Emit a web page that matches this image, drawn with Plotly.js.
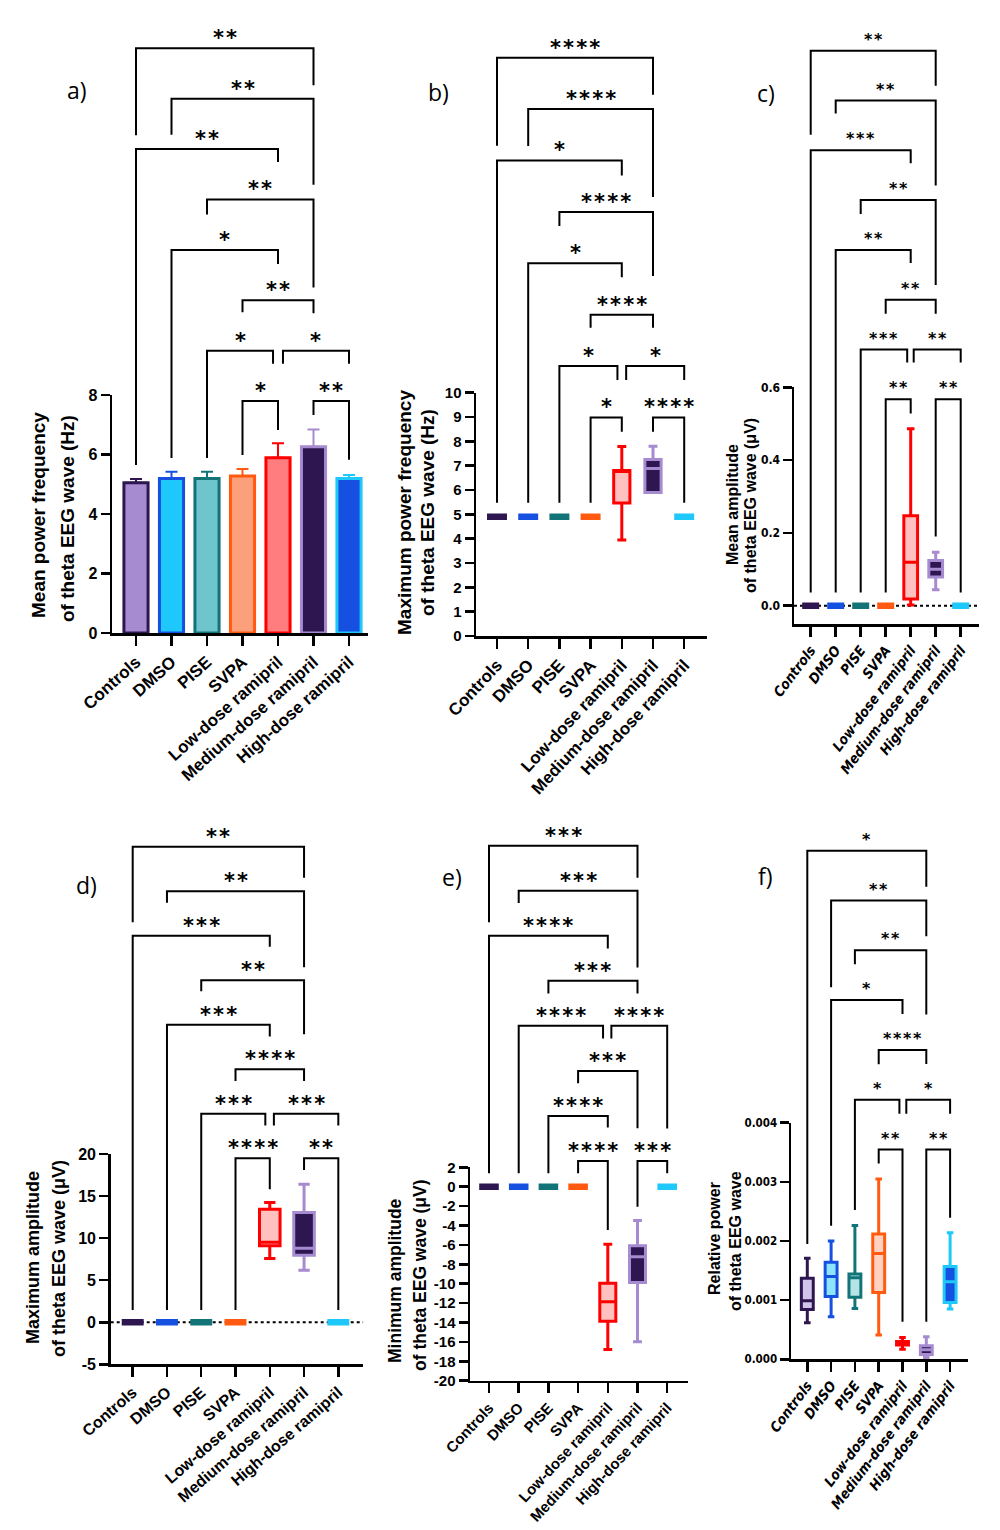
<!DOCTYPE html>
<html><head><meta charset="utf-8">
<script src="https://cdn.plot.ly/plotly-3.0.1.min.js"></script>
<style>html,body{margin:0;padding:0;background:#fff}</style>
</head><body><div id="chart" style="width:1000px;height:1530px"></div>
<script>
// ---------------- DATA ----------------
const categories = ['Controls','DMSO','PISE','SVPA','Low-dose ramipril','Medium-dose ramipril','High-dose ramipril'];

// a) Mean power frequency (Hz): mean + upper error
const meanFreq    = [5.05, 5.19, 5.19, 5.28, 5.89, 6.26, 5.19];
const meanFreqErr = [0.13, 0.23, 0.23, 0.23, 0.49, 0.58, 0.12];

// b) Maximum power frequency (Hz): box statistics
const maxFreqQ1  = [4.9, 4.9, 4.9, 4.9, 5.47, 5.90, 4.9];
const maxFreqMed = [4.9, 4.9, 4.9, 4.9, 6.80, 6.88, 4.9];
const maxFreqQ3  = [4.9, 4.9, 4.9, 4.9, 6.80, 7.25, 4.9];
const maxFreqLo  = [4.9, 4.9, 4.9, 4.9, 3.95, 5.90, 4.9];
const maxFreqHi  = [4.9, 4.9, 4.9, 4.9, 7.79, 7.80, 4.9];

// c) Mean amplitude (µV)
const meanAmpQ1  = [0, 0, 0, 0, 0.018, 0.079, 0];
const meanAmpMed = [0, 0, 0, 0, 0.119, 0.100, 0];
const meanAmpQ3  = [0, 0, 0, 0, 0.247, 0.124, 0];
const meanAmpLo  = [0, 0, 0, 0, 0.002, 0.044, 0];
const meanAmpHi  = [0, 0, 0, 0, 0.486, 0.147, 0];

// d) Maximum amplitude (µV)
const maxAmpQ1  = [0, 0, 0, 0, 9.09, 7.97, 0];
const maxAmpMed = [0, 0, 0, 0, 9.50, 8.79, 0];
const maxAmpQ3  = [0, 0, 0, 0, 13.43, 13.04, 0];
const maxAmpLo  = [0, 0, 0, 0, 7.58, 6.19, 0];
const maxAmpHi  = [0, 0, 0, 0, 14.23, 16.40, 0];

// e) Minimum amplitude (µV)
const minAmpQ1  = [0, 0, 0, 0, -13.87, -9.88, 0];
const minAmpMed = [0, 0, 0, 0, -11.86, -7.22, 0];
const minAmpQ3  = [0, 0, 0, 0, -9.95, -6.09, 0];
const minAmpLo  = [0, 0, 0, 0, -16.78, -15.99, 0];
const minAmpHi  = [0, 0, 0, 0, -5.93, -3.48, 0];

// f) Relative power
const relPowQ1  = [0.00084, 0.00106, 0.00105, 0.00113, 0.00024, 0.00008, 0.00096];
const relPowMed = [0.00099, 0.00140, 0.00138, 0.00179, 0.00027, 0.00016, 0.00131];
const relPowQ3  = [0.00137, 0.00164, 0.00144, 0.00212, 0.00030, 0.00023, 0.00157];
const relPowLo  = [0.00062, 0.00072, 0.00086, 0.00041, 0.00017, 0.00003, 0.00085];
const relPowHi  = [0.00171, 0.00200, 0.00226, 0.00305, 0.00037, 0.00038, 0.00214];

// y tick values
const ticksA = [0, 2, 4, 6, 8];
const ticksB = [0, 1, 2, 3, 4, 5, 6, 7, 8, 9, 10];
const ticksC = [0, 0.2, 0.4, 0.6];
const ticksD = [-5, 0, 5, 10, 15, 20];
const ticksE = [-20, -18, -16, -14, -12, -10, -8, -6, -4, -2, 0, 2];
const ticksF = [0, 0.001, 0.002, 0.003, 0.004];

// significance comparisons [group i, group j, label]
const sigA = [[0,5,'**'],[1,5,'**'],[0,4,'**'],[2,5,'**'],[1,4,'*'],[3,5,'**'],[2,4,'*'],[4,6,'*'],[3,4,'*'],[5,6,'**']];
const sigB = [[0,5,'****'],[1,5,'****'],[0,4,'*'],[2,5,'****'],[1,4,'*'],[3,5,'****'],[2,4,'*'],[4,6,'*'],[3,4,'*'],[5,6,'****']];
const sigC = [[0,5,'**'],[1,5,'**'],[0,4,'***'],[2,5,'**'],[1,4,'**'],[3,5,'**'],[2,4,'***'],[4,6,'**'],[3,4,'**'],[5,6,'**']];
const sigD = [[0,5,'**'],[1,5,'**'],[0,4,'***'],[2,5,'**'],[1,4,'***'],[3,5,'****'],[2,4,'***'],[4,6,'***'],[3,4,'****'],[5,6,'**']];
const sigE = [[0,5,'***'],[1,5,'***'],[0,4,'****'],[2,5,'***'],[1,4,'****'],[4,6,'****'],[3,5,'***'],[2,4,'****'],[3,4,'****'],[5,6,'***']];
const sigF = [[0,5,'*'],[1,5,'**'],[2,5,'**'],[1,4,'*'],[3,5,'****'],[2,4,'*'],[4,6,'*'],[3,4,'**'],[5,6,'**']];

// ---------------- STYLE / LAYOUT ----------------
const W = 1000, H = 1530;
const FONT = 'Liberation Sans, Arial, sans-serif';
const NARROW = 'Liberation Sans Narrow, DejaVu Sans Condensed, Liberation Sans, sans-serif';
const STARF = 'DejaVu Sans, sans-serif';
const LETTERF = 'Open Sans, Noto Sans, sans-serif';

const lineCol = ['#2e1650','#1550e0','#137478','#ff5a10','#ff0000','#a68bd0','#1ec8fa'];
const barFill = ['#a68bd0','#1ec8fa','#6ec5cb','#fba07a','#ff7d7f','#2e1650','#1550e0'];
const boxFill = ['#d2c5ea','#8ee4fb','#b5e3e6','#ffd2c2','#ffc0c0','#2e1650','#1550e0'];

// bracket drawing geometry (level index, leg lengths in px or {v: data value}, small end offsets)
const brA = [{lv:0,L:87,R:37},{lv:1,L:36,R:86},{lv:2,L:{v:5.65},R:13},{lv:3,L:15,R:88},{lv:4,L:{v:5.88},R:14},{lv:5,L:12,R:13},{lv:6,L:{v:5.88},R:13,db:-0.14},{lv:6,L:13,R:13,da:0.14},{lv:7,L:{v:5.98},R:{v:6.82}},{lv:7,L:{v:7.33},R:{v:5.82}}];
const brB = [{lv:0,L:88,R:37},{lv:1,L:37,R:88},{lv:2,L:{v:5.48},R:15},{lv:3,L:14,R:64},{lv:4,L:{v:5.48},R:14},{lv:5,L:13,R:13},{lv:6,L:{v:5.48},R:14,db:-0.14},{lv:6,L:14,R:14,da:0.14},{lv:7,L:{v:5.48},R:{v:8.4}},{lv:7,L:{v:8.4},R:{v:5.48}}];
const brC = [{lv:0,L:84,R:35},{lv:1,L:13,R:85},{lv:2,L:{v:0.036},R:13},{lv:3,L:14,R:85},{lv:4,L:{v:0.036},R:13},{lv:5,L:14,R:14},{lv:6,L:{v:0.036},R:13,db:-0.14},{lv:6,L:13,R:13,da:0.12},{lv:7,L:{v:0.036},R:{v:0.528}},{lv:7,L:{v:0.19},R:{v:0.036}}];
const brD = [{lv:0,L:75.6,R:31},{lv:1,L:11.6,R:76},{lv:2,L:{v:1.46},R:11},{lv:3,L:11,R:54},{lv:4,L:{v:1.46},R:11.7},{lv:5,L:11.7,R:11.7},{lv:6,L:{v:1.46},R:11.7,db:-0.13},{lv:6,L:11.7,R:11.7,da:0.12},{lv:7,L:{v:1.46},R:{v:15.8}},{lv:7,L:{v:18.1},R:{v:1.46}}];
const brE = [{lv:0,L:76.6,R:32},{lv:1,L:12.3,R:76.7},{lv:2,L:{v:1.38},R:12.6},{lv:3,L:12.6,R:12.6},{lv:4,L:{v:1.38},R:12.6,db:-0.16},{lv:4,L:12.6,R:102.7,da:0.12},{lv:5,L:12.3,R:57.3},{lv:6,L:{v:1.38},R:11.6},{lv:7,L:12.3,R:{v:-4.46}},{lv:7,L:{v:-2.06},R:{v:1.38}}];
const brF = [{lv:0,L:{v:0.00195},R:36},{lv:1,L:86.7,R:35.7},{lv:2,L:14,R:64.3},{lv:3,L:{v:0.002259},R:14},{lv:4,L:14.3,R:14},{lv:5,L:{v:0.002524},R:14,db:-0.13},{lv:5,L:14,R:14,da:0.16},{lv:6,L:14,R:{v:0.000636}},{lv:6,L:{v:0.000636},R:{v:0.002394}}];

const panels = [
  {n:1, letter:'a)', lx:77, ly:90, x0:112, x1:368, c0:136, s:35.5, yTop:395, yBot:633, yr:[0,8], ticks:ticksA, dec:0,
   top:48.3, gap:50.4, star:21, ytf:{family:FONT,size:16}, xtf:{family:FONT,size:17}, xang:-42,
   title:[['Mean power frequency',38,515],['of theta EEG wave (Hz)',67,519]], tsize:19, tfam:FONT,
   kind:'bar', sig:sigA, br:brA},
  {n:2, letter:'b)', lx:438, ly:92, x0:476, x1:707, c0:497, s:31.2, yTop:392.7, yBot:636, yr:[0,10], ticks:ticksB, dec:0,
   top:57.7, gap:51.4, star:21, ytf:{family:FONT,size:15}, xtf:{family:FONT,size:17}, xang:-47,
   title:[['Maximum power frequency',405,513],['of theta EEG wave (Hz)',428,513]], tsize:19, tfam:FONT,
   kind:'box', q1:maxFreqQ1, med:maxFreqMed, q3:maxFreqQ3, lo:maxFreqLo, hi:maxFreqHi, bw:0.52, fw:0.64, sig:sigB, br:brB},
  {n:3, letter:'c)', lx:766, ly:93, x0:794, x1:978.7, c0:810.7, s:25, yTop:387.3, yBot:624, yr:[-0.0504,0.6], ticks:ticksC, dec:1,
   top:50.7, gap:49.8, star:16, ytf:{family:NARROW,size:12}, xtf:{family:NARROW,size:14,style:'italic'}, xang:-53,
   title:[['Mean amplitude',733,505],['of theta EEG wave (μV)',751,506]], tsize:16, tfam:FONT,
   kind:'box', q1:meanAmpQ1, med:meanAmpMed, q3:meanAmpQ3, lo:meanAmpLo, hi:meanAmpHi, bw:0.55, fw:0.68, dotted:true, sig:sigC, br:brC},
  {n:4, letter:'d)', lx:86, ly:885, x0:110.7, x1:363.3, c0:132.7, s:34.27, yTop:1154, yBot:1364.4, yr:[-5,20], ticks:ticksD, dec:0,
   top:846.7, gap:44.5, star:21, ytf:{family:FONT,size:16}, xtf:{family:FONT,size:16}, xang:-41,
   title:[['Maximum amplitude',33,1258],['of theta EEG wave (μV)',59,1259]], tsize:18, tfam:FONT,
   kind:'box', q1:maxAmpQ1, med:maxAmpMed, q3:maxAmpQ3, lo:maxAmpLo, hi:maxAmpHi, bw:0.6, fw:0.64, dotted:true, sig:sigD, br:brD},
  {n:5, letter:'e)', lx:452, ly:877, x0:470, x1:688.3, c0:489, s:29.7, yTop:1167.3, yBot:1380.7, yr:[-20,2], ticks:ticksE, dec:0,
   top:845.7, gap:45.04, star:21, ytf:{family:FONT,size:15}, xtf:{family:FONT,size:15}, xang:-47,
   title:[['Minimum amplitude',395,1281],['of theta EEG wave (μV)',420,1275]], tsize:17.5, tfam:FONT,
   kind:'box', q1:minAmpQ1, med:minAmpMed, q3:minAmpQ3, lo:minAmpLo, hi:minAmpHi, bw:0.54, fw:0.66, sig:sigE, br:brE},
  {n:6, letter:'f)', lx:765, ly:876, x0:791, x1:967.7, c0:807.3, s:23.8, yTop:1122.7, yBot:1359.3, yr:[0,0.004], ticks:ticksF, dec:3,
   top:850.7, gap:49.8, star:16, ytf:{family:NARROW,size:11.5}, xtf:{family:NARROW,size:14,style:'italic'}, xang:-53,
   title:[['Relative power',714,1239],['of theta EEG wave',735,1241]], tsize:16, tfam:FONT,
   kind:'box', q1:relPowQ1, med:relPowMed, q3:relPowQ3, lo:relPowLo, hi:relPowHi, bw:0.5, fw:0.6, sig:sigF, br:brF}
];

const traces = [];
const layout = {
  width: W, height: H, margin:{l:0,r:0,t:0,b:0}, paper_bgcolor:'#fff', plot_bgcolor:'rgba(0,0,0,0)',
  showlegend:false, barmode:'overlay', boxmode:'overlay', shapes:[], annotations:[]
};

const pY = py => 1 - py / H;

panels.forEach(p => {
  const sx = p.n === 1 ? '' : String(p.n);
  const xr = [(p.x0 - p.c0) / p.s, (p.x1 - p.c0) / p.s];
  const yb = pY(p.yBot), yt = pY(p.yTop);
  const d2p = v => yb + (v - p.yr[0]) / (p.yr[1] - p.yr[0]) * (yt - yb);
  const i2d = i => (i - xr[0]) / (xr[1] - xr[0]);

  layout['xaxis' + sx] = {
    domain:[p.x0 / W, p.x1 / W], range:xr, anchor:'y' + sx, showline:true, linecolor:'#000', linewidth:2.5,
    ticks:'outside', ticklen:10, tickwidth:2.5, tickcolor:'#000',
    tickvals: categories.map((c, i) => i), ticktext: categories, tickangle:p.xang,
    tickfont:Object.assign({color:'#000', weight:'bold'}, p.xtf), showgrid:false, zeroline:false, fixedrange:true
  };
  layout['yaxis' + sx] = {
    domain:[yb, yt], range:p.yr, anchor:'x' + sx, showline:true, linecolor:'#000', linewidth:2.5,
    ticks:'outside', ticklen:9, tickwidth:2.5, tickcolor:'#000',
    tickvals:p.ticks, ticktext:p.ticks.map(v => v.toFixed(p.dec)),
    tickfont:Object.assign({color:'#000', weight:'bold'}, p.ytf), showgrid:false, zeroline:false, fixedrange:true
  };

  if (p.dotted) {
    layout.shapes.push({type:'line', xref:'x' + sx, yref:'y' + sx, x0:xr[0], x1:xr[1], y0:0, y1:0,
      layer:'below', line:{color:'#000', width:2, dash:'dot'}});
  }

  categories.forEach((c, i) => {
    if (p.kind === 'bar') {
      traces.push({type:'bar', x:[i], y:[meanFreq[i]], width:[0.68], xaxis:'x' + sx, yaxis:'y' + sx,
        marker:{color:barFill[i], line:{color:lineCol[i], width:3}},
        error_y:{type:'data', symmetric:false, array:[meanFreqErr[i]], arrayminus:[0], color:lineCol[i], thickness:2, width:6},
        hoverinfo:'skip'});
    } else {
      const flat = p.q1[i] === p.q3[i] && p.lo[i] === p.hi[i];
      traces.push({type:'box', x:[i], q1:[p.q1[i]], median:[p.med[i]], q3:[p.q3[i]],
        lowerfence:[p.lo[i]], upperfence:[p.hi[i]], xaxis:'x' + sx, yaxis:'y' + sx,
        width: flat ? p.fw : p.bw, whiskerwidth:0.55, boxpoints:false,
        fillcolor: flat ? lineCol[i] : boxFill[i],
        line:{color:lineCol[i], width: flat ? 6.5 : 3}, hoverinfo:'skip'});
    }
  });

  // significance brackets
  p.sig.forEach((sg, k) => {
    const g = p.br[k];
    const xa = sg[0] + (g.da || 0), xb = sg[1] + (g.db || 0);
    const lvPx = p.top + g.lv * p.gap;
    const yl = pY(lvPx);
    const legY = leg => (typeof leg === 'number') ? pY(lvPx + leg) : d2p(leg.v);
    const X = i => i2d(i).toFixed(5);
    layout.shapes.push({type:'path', xref:'x' + sx + ' domain', yref:'paper', layer:'above',
      path:`M ${X(xa)},${legY(g.L).toFixed(5)} L ${X(xa)},${yl.toFixed(5)} L ${X(xb)},${yl.toFixed(5)} L ${X(xb)},${legY(g.R).toFixed(5)}`,
      line:{color:'#000', width:2}});
    layout.annotations.push({xref:'x' + sx, yref:'paper', x:(xa + xb) / 2, y:pY(lvPx - 15 + 0.23 * p.star),
      text:sg[2].split('').join('\u200A'), showarrow:false, xanchor:'center', yanchor:'middle',
      font:{family:STARF, size:p.star, color:'#000', weight:'bold'}});
  });

  // y-axis title lines
  p.title.forEach(t => {
    layout.annotations.push({xref:'paper', yref:'paper', x:t[1] / W, y:pY(t[2]), text:t[0], textangle:-90,
      showarrow:false, xanchor:'center', yanchor:'middle',
      font:{family:p.tfam, size:p.tsize, color:'#000', weight:'bold'}});
  });

  // panel letter
  layout.annotations.push({xref:'paper', yref:'paper', x:p.lx / W, y:pY(p.ly), text:p.letter, showarrow:false,
    xanchor:'center', yanchor:'middle', font:{family:LETTERF, size:23, color:'#000'}});
});

Plotly.newPlot('chart', traces, layout, {staticPlot:true, displayModeBar:false});
</script>
</body></html>
